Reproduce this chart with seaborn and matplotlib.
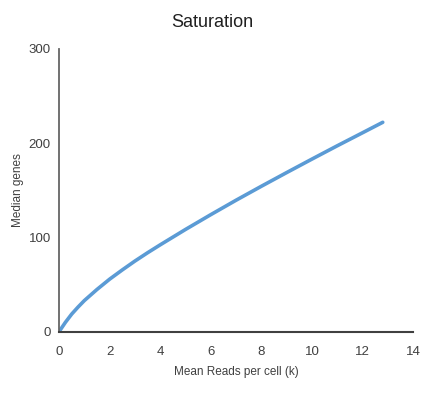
import numpy as np
import pandas as pd
import seaborn as sns
import matplotlib.pyplot as plt

# values
mean_reads_k = [0, 0.25, 0.5, 0.75, 1, 1.5, 2, 2.5, 3, 3.5, 4, 5, 6, 7, 8, 9, 10, 11, 12, 12.8]
median_genes = [0, 9.9, 18.7, 26.1, 33, 44.8, 55.7, 65.5, 74.9, 83.7, 92.1, 108.4, 124.1,
                139.4, 154.2, 168.7, 183, 197.1, 210.9, 222]
x_ticks = [0, 2, 4, 6, 8, 10, 12, 14]
y_ticks = [0, 100, 200, 300]

df = pd.DataFrame({'reads': mean_reads_k, 'genes': median_genes})

sns.set_style('white')
plt.rcParams['font.family'] = ['Liberation Sans', 'DejaVu Sans']

fig = plt.figure(figsize=(4.25, 3.93), dpi=100)
ax = fig.add_axes([0.139, 0.156, 0.833, 0.72])

sns.lineplot(data=df, x='reads', y='genes', ax=ax, color='#5b9bd5', linewidth=2.6)

ax.set_xlim(0, 14)
ax.set_ylim(0, 300)
ax.set_xticks(x_ticks)
ax.set_yticks(y_ticks)
ax.tick_params(length=0, labelsize=9.5, colors='#404040')
ax.tick_params(axis='x', pad=10)
ax.tick_params(axis='y', pad=6)

for side in ['top', 'right']:
    ax.spines[side].set_visible(False)
ax.spines['left'].set_color('#666666')
ax.spines['left'].set_linewidth(1.3)
ax.spines['bottom'].set_color('#404040')
ax.spines['bottom'].set_linewidth(1.5)

ax.set_xlabel('Mean Reads per cell (k)', fontsize=8.5, color='#404040', labelpad=6)
ax.set_ylabel('Median genes', fontsize=8.5, color='#404040', labelpad=3)
fig.suptitle('Saturation', fontsize=13, color='#202020', y=0.965)

fig.savefig('out.png', dpi=100)
